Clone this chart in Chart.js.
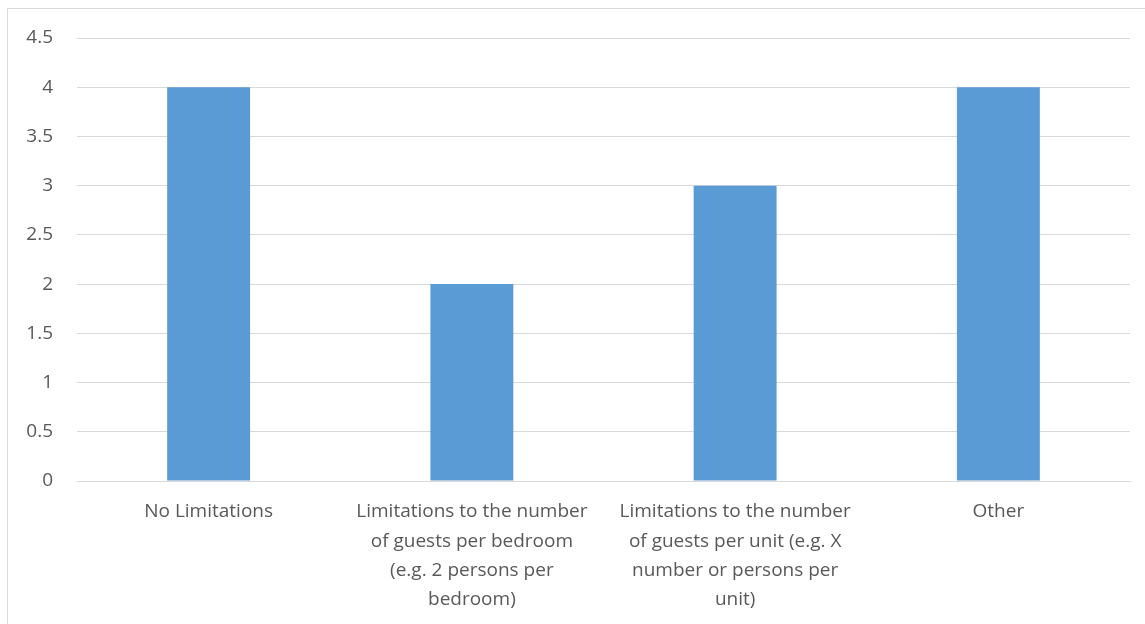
<!DOCTYPE html>
<html>
<head>
<meta charset="utf-8">
<script src="https://cdn.jsdelivr.net/npm/chart.js@4/dist/chart.umd.min.js"></script>
<style>
  html, body { margin: 0; padding: 0; background: #ffffff; overflow: hidden; }
  #wrap { position: relative; width: 1145px; height: 624px; }
  #frame {
    position: absolute; left: 7px; top: 8px; right: -10px; bottom: -10px;
    border: 1px solid #d9d9d9; pointer-events: none;
  }
  canvas { position: absolute; left: 0; top: 0; }
</style>
</head>
<body>
<div id="wrap">
  <div id="frame"></div>
  <canvas id="chart" width="1145" height="624"></canvas>
</div>
<script>
// Category labels, already broken into the lines shown under each bar
const categories = [
  ["No Limitations"],
  ["Limitations to the number", "of guests per bedroom", "(e.g. 2 persons per", "bedroom)"],
  ["Limitations to the number", "of guests per unit (e.g. X", "number or persons per", "unit)"],
  ["Other"]
];
const counts = [4, 2, 3, 4];
const yTicks = [0, 0.5, 1, 1.5, 2, 2.5, 3, 3.5, 4, 4.5];

const textColor = '#595959';
const gridColor = '#d9d9d9';
const baseFont = { family: "'Open Sans', 'Liberation Sans', sans-serif", size: 19 };

new Chart(document.getElementById('chart'), {
  type: 'bar',
  data: {
    labels: categories,
    datasets: [{
      data: counts,
      backgroundColor: '#5b9bd5',
      borderWidth: 0,
      categoryPercentage: 1,
      barPercentage: 0.315
    }]
  },
  options: {
    responsive: false,
    animation: false,
    layout: { padding: { left: 0, right: 15, top: 38, bottom: 0 } },
    plugins: { legend: { display: false }, tooltip: { enabled: false } },
    scales: {
      x: {
        grid: { display: false, drawTicks: false },
        border: { display: true, color: gridColor, width: 1 },
        ticks: {
          color: textColor,
          font: Object.assign({}, baseFont, { lineHeight: 1.55 }),
          padding: 16,
          maxRotation: 0,
          autoSkip: false
        },
        afterFit: (scale) => { scale.height = 143; }
      },
      y: {
        min: 0,
        max: 4.5,
        afterBuildTicks: (scale) => { scale.ticks = yTicks.map(v => ({ value: v })); },
        grid: { color: gridColor, lineWidth: 1, drawTicks: false },
        border: { display: false },
        ticks: {
          color: textColor,
          font: baseFont,
          padding: 24,
          callback: (v) => String(v)
        },
        afterFit: (scale) => { scale.width = 77; }
      }
    }
  }
});
</script>
</body>
</html>
